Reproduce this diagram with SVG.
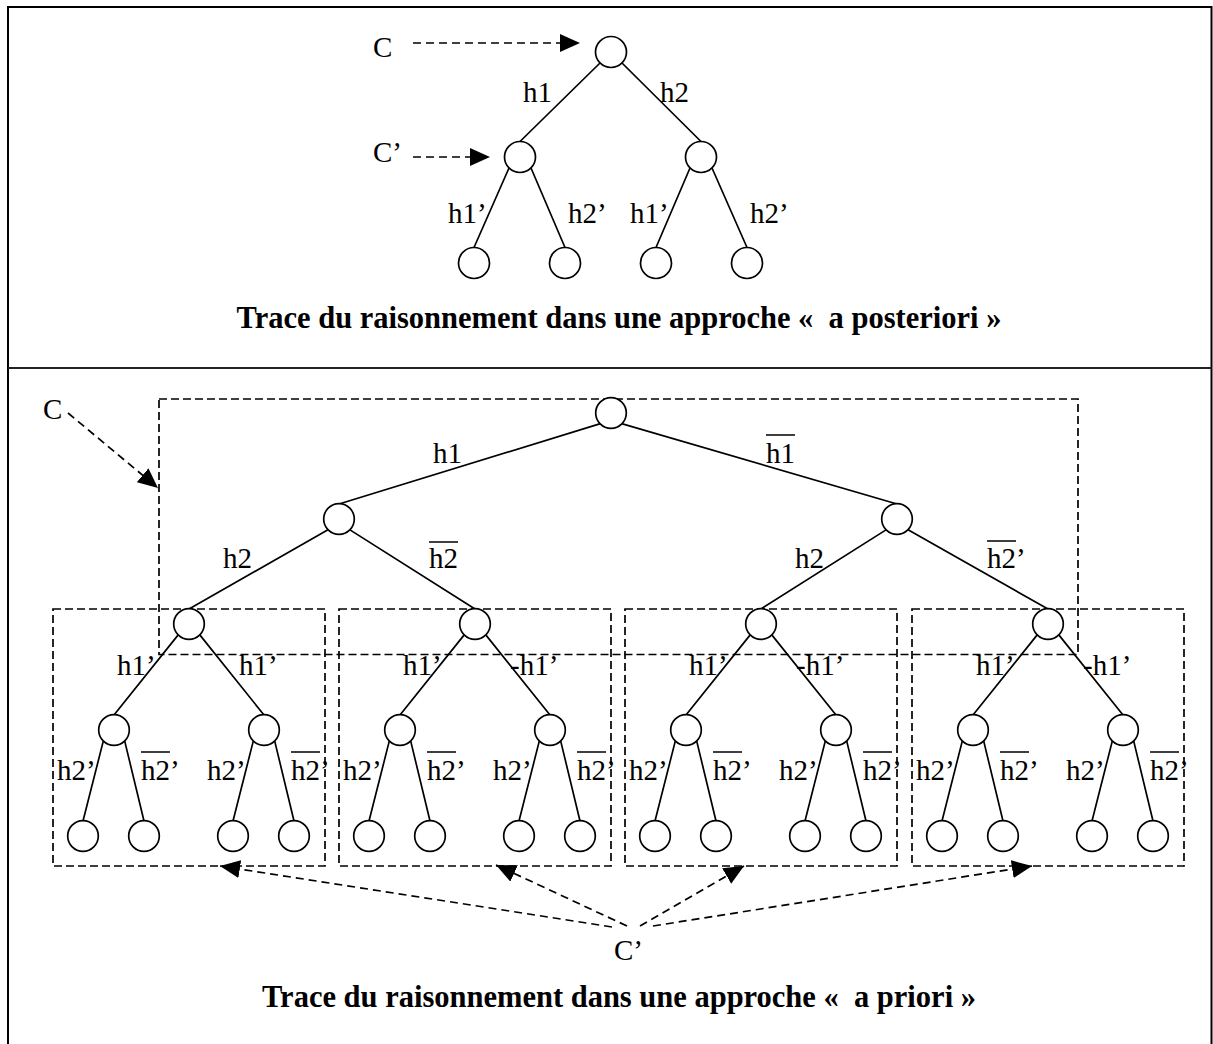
<svg xmlns="http://www.w3.org/2000/svg" width="1213" height="1044" viewBox="0 0 1213 1044">
<style>
.t{font-family:"Liberation Serif","Times New Roman",serif;font-size:29px;fill:#000}
.ttl{font-family:"Liberation Serif","Times New Roman",serif;font-size:30.5px;font-weight:bold;fill:#000}
.n{fill:#fff;stroke:#000;stroke-width:1.7}
.e{stroke:#000;stroke-width:1.7;fill:none}
.d{stroke:#000;stroke-width:1.7;fill:none;stroke-dasharray:8 4}
.a{stroke:#000;stroke-width:1.7;fill:none;stroke-dasharray:8 5;marker-end:url(#ah)}
.ov{stroke:#000;stroke-width:1.6}
</style>
<defs>
<marker id="ah" markerUnits="userSpaceOnUse" markerWidth="20" markerHeight="18" refX="20" refY="9" orient="auto" viewBox="0 0 20 18"><path d="M0,0 L20,9 L0,18 z" fill="#000"/></marker>
</defs>
<rect width="1213" height="1044" fill="#fff"/>
<g id="frame">
<path d="M8,1044 V7 H1211.5 V1044" fill="none" stroke="#000" stroke-width="2"/>
<line x1="8" y1="368" x2="1211.5" y2="368" stroke="#222" stroke-width="2"/>
</g>
<g id="groups">
<rect class="d" x="159" y="399" width="919" height="255.5"/>
<rect class="d" x="53" y="609" width="272" height="257"/>
<rect class="d" x="339" y="609" width="272" height="257"/>
<rect class="d" x="625" y="609" width="272" height="257"/>
<rect class="d" x="912" y="609" width="272" height="257"/>
</g>
<g id="connectors">
<path class="e" d="M600,63 L520,141.5 M622,63 L701,141.5 M509,168 L474,247.5 M531,168 L565,247.5 M690,168 L656,247.5 M712,168 L747,247.5"/>
<path class="e" d="M600.4,423.6 L339,504 M621.6,423.6 L897,504 M328.4,529.6 L189,609 M349.6,529.6 L475,609 M886.4,529.6 L761,609 M907.6,529.6 L1048,609"/>
<path class="e" d="M178.4,634.6 L114,715 M199.6,634.6 L264,715 M464.4,634.6 L400,715 M485.6,634.6 L550,715 M750.4,634.6 L686,715 M771.6,634.6 L836,715 M1037.4,634.6 L973,715 M1058.6,634.6 L1123,715"/>
<path class="e" d="M103.4,740.6 L83,821 M124.6,740.6 L144,821 M253.4,740.6 L233,821 M274.6,740.6 L294,821 M389.4,740.6 L369,821 M410.6,740.6 L430,821 M539.4,740.6 L519,821 M560.6,740.6 L580,821 M675.4,740.6 L655,821 M696.6,740.6 L716,821 M825.4,740.6 L805,821 M846.6,740.6 L866,821 M962.4,740.6 L942,821 M983.6,740.6 L1003,821 M1112.4,740.6 L1092,821 M1133.6,740.6 L1153,821"/>
<path class="a" d="M413,43 H580"/>
<path class="a" d="M413,157 H490"/>
<path class="a" d="M68,413 L158,488"/>
<path class="a" d="M612,927 L220,866"/>
<path class="a" d="M627,926 L496,865"/>
<path class="a" d="M640,926 L744,866"/>
<path class="a" d="M653,926 L1032,866"/>
</g>
<g id="top-tree">
<g id="t0"><circle class="n" cx="611" cy="52" r="15.5"/></g>
<g id="t1"><circle class="n" cx="520" cy="157" r="15.5"/></g>
<g id="t2"><circle class="n" cx="701" cy="157" r="15.5"/></g>
<g id="t3"><circle class="n" cx="474" cy="263" r="15.5"/></g>
<g id="t4"><circle class="n" cx="565" cy="263" r="15.5"/></g>
<g id="t5"><circle class="n" cx="656" cy="263" r="15.5"/></g>
<g id="t6"><circle class="n" cx="747" cy="263" r="15.5"/></g>
</g>
<g id="bottom-tree">
<g id="b0"><circle class="n" cx="611" cy="413" r="15.3"/></g>
<g id="b1"><circle class="n" cx="339" cy="519" r="15.3"/></g>
<g id="b2"><circle class="n" cx="897" cy="519" r="15.3"/></g>
<g id="b3"><circle class="n" cx="189" cy="624" r="15.3"/></g>
<g id="b4"><circle class="n" cx="475" cy="624" r="15.3"/></g>
<g id="b5"><circle class="n" cx="761" cy="624" r="15.3"/></g>
<g id="b6"><circle class="n" cx="1048" cy="624" r="15.3"/></g>
<g id="b7"><circle class="n" cx="114" cy="730" r="15.3"/></g>
<g id="b8"><circle class="n" cx="264" cy="730" r="15.3"/></g>
<g id="b9"><circle class="n" cx="400" cy="730" r="15.3"/></g>
<g id="b10"><circle class="n" cx="550" cy="730" r="15.3"/></g>
<g id="b11"><circle class="n" cx="686" cy="730" r="15.3"/></g>
<g id="b12"><circle class="n" cx="836" cy="730" r="15.3"/></g>
<g id="b13"><circle class="n" cx="973" cy="730" r="15.3"/></g>
<g id="b14"><circle class="n" cx="1123" cy="730" r="15.3"/></g>
<g id="b15"><circle class="n" cx="83" cy="836" r="15.3"/></g>
<g id="b16"><circle class="n" cx="144" cy="836" r="15.3"/></g>
<g id="b17"><circle class="n" cx="233" cy="836" r="15.3"/></g>
<g id="b18"><circle class="n" cx="294" cy="836" r="15.3"/></g>
<g id="b19"><circle class="n" cx="369" cy="836" r="15.3"/></g>
<g id="b20"><circle class="n" cx="430" cy="836" r="15.3"/></g>
<g id="b21"><circle class="n" cx="519" cy="836" r="15.3"/></g>
<g id="b22"><circle class="n" cx="580" cy="836" r="15.3"/></g>
<g id="b23"><circle class="n" cx="655" cy="836" r="15.3"/></g>
<g id="b24"><circle class="n" cx="716" cy="836" r="15.3"/></g>
<g id="b25"><circle class="n" cx="805" cy="836" r="15.3"/></g>
<g id="b26"><circle class="n" cx="866" cy="836" r="15.3"/></g>
<g id="b27"><circle class="n" cx="942" cy="836" r="15.3"/></g>
<g id="b28"><circle class="n" cx="1003" cy="836" r="15.3"/></g>
<g id="b29"><circle class="n" cx="1092" cy="836" r="15.3"/></g>
<g id="b30"><circle class="n" cx="1153" cy="836" r="15.3"/></g>
</g>
<g id="labels">
<text class="t" x="373" y="57">C</text>
<text class="t" x="373" y="162">C’</text>
<text class="t" x="523" y="102">h1</text>
<text class="t" x="660" y="102">h2</text>
<text class="t" x="448" y="223">h1’</text>
<text class="t" x="568" y="223">h2’</text>
<text class="t" x="630" y="223">h1’</text>
<text class="t" x="750" y="223">h2’</text>
<text class="ttl" x="619" y="328" text-anchor="middle">Trace du raisonnement dans une approche «&#160; a posteriori »</text>

<text class="t" x="43" y="419">C</text>
<text class="t" x="433" y="463">h1</text>
<text class="t" x="766" y="463">h1</text>
<text class="t" x="223" y="568">h2</text>
<text class="t" x="429" y="568">h2</text>
<text class="t" x="795" y="568">h2</text>
<text class="t" x="987" y="568">h2’</text>

<text class="t" x="117" y="675">h1’</text>
<text class="t" x="239" y="675">h1’</text>
<text class="t" x="403" y="675">h1’</text>
<text class="t" x="510" y="675">-h1’</text>
<text class="t" x="689" y="675">h1’</text>
<text class="t" x="796" y="675">-h1’</text>
<text class="t" x="976" y="675">h1’</text>
<text class="t" x="1083" y="675">-h1’</text>

<text class="t" x="57" y="780">h2’</text>
<text class="t" x="141" y="780">h2’</text>
<text class="t" x="207" y="780">h2’</text>
<text class="t" x="291" y="780">h2’</text>
<text class="t" x="343" y="780">h2’</text>
<text class="t" x="427" y="780">h2’</text>
<text class="t" x="493" y="780">h2’</text>
<text class="t" x="577" y="780">h2’</text>
<text class="t" x="629" y="780">h2’</text>
<text class="t" x="713" y="780">h2’</text>
<text class="t" x="779" y="780">h2’</text>
<text class="t" x="863" y="780">h2’</text>
<text class="t" x="916" y="780">h2’</text>
<text class="t" x="1000" y="780">h2’</text>
<text class="t" x="1066" y="780">h2’</text>
<text class="t" x="1150" y="780">h2’</text>

<text class="t" x="614" y="960">C’</text>
<text class="ttl" x="619" y="1007" text-anchor="middle">Trace du raisonnement dans une approche «&#160; a priori »</text>
</g>
<g id="overlines">
<path class="ov" d="M766,435 H795 M429,542 H458 M987,541 H1016 M141,752 H170 M291,752 H320 M427,752 H456 M577,752 H606 M713,752 H742 M863,752 H892 M1000,752 H1029 M1150,752 H1179"/>
</g>
</svg>
